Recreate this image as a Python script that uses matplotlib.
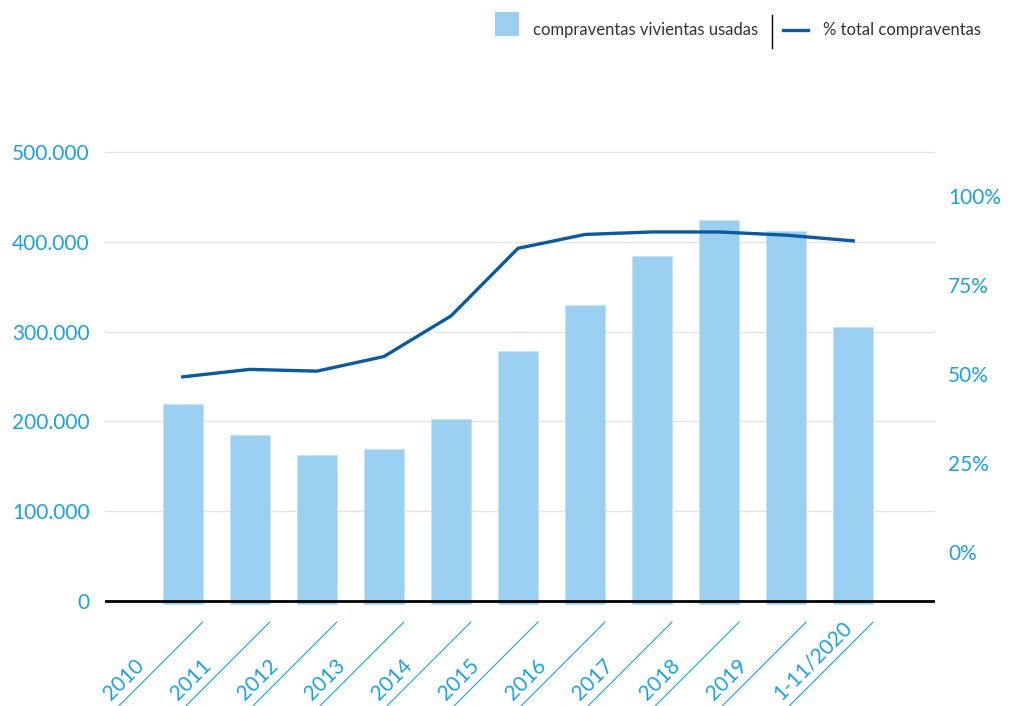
import matplotlib
matplotlib.use("Agg")
import matplotlib.pyplot as plt
from matplotlib.transforms import ScaledTranslation
from matplotlib.patches import Rectangle
from matplotlib.lines import Line2D

# ---- data ----
years = ["2010", "2011", "2012", "2013", "2014", "2015", "2016", "2017", "2018", "2019", "1-11/2020"]
ventas_usadas = [219400, 184500, 162900, 169600, 202700, 278400, 329300, 383900, 424300, 412400, 304800]
pct_total = [49.2, 51.3, 50.8, 54.9, 66.3, 85.3, 89.2, 89.9, 89.9, 89.0, 87.4]
left_ticks = [0, 100000, 200000, 300000, 400000, 500000]
left_ticklabels = ["0", "100.000", "200.000", "300.000", "400.000", "500.000"]
right_ticks = [0, 25, 50, 75, 100]
right_ticklabels = ["0%", "25%", "50%", "75%", "100%"]
legend_bar = "compraventas vivientas usadas"
legend_line = "% total compraventas"

# ---- style ----
FONT = ["Lato", "DejaVu Sans"]
plt.rcParams["font.family"] = FONT
BAR_COLOR = "#9acff2"
LINE_COLOR = "#0b5a9c"
TICK_COLOR = "#1ba1de"
GRID_COLOR = "#e3e3e3"
TEXT_COLOR = "#333333"

W, H = 1010, 706
fig = plt.figure(figsize=(W / 100, H / 100), dpi=100)
ax = fig.add_axes([105 / W, 1 - 606 / H, (935 - 105) / W, (606 - 140) / H])

x = list(range(len(years)))
base = -3500
ax.bar(x, [v - base for v in ventas_usadas], bottom=base, width=0.6,
       color=BAR_COLOR, edgecolor="#c4e3f8", linewidth=0.6, zorder=2)
ax.axhline(0, color="black", lw=2, zorder=4)

ax.set_xlim(-1.16, 11.22)
ax.set_ylim(-5568, 513400)
ax.set_yticks(left_ticks)
ax.set_yticklabels(left_ticklabels)
ax.yaxis.grid(True, color=GRID_COLOR, lw=1)
ax.set_axisbelow(True)
ax.tick_params(axis="y", length=0, pad=11, labelsize=15, labelcolor=TICK_COLOR)
ax.set_xticks([])
for s in ax.spines.values():
    s.set_visible(False)

ax2 = ax.twinx()
ax2.plot(x, pct_total, color=LINE_COLOR, lw=2.4, zorder=5, solid_joinstyle="miter")
ax2.set_ylim(-15.17, 115.73)
ax2.set_yticks(right_ticks)
ax2.set_yticklabels(right_ticklabels)
ax2.tick_params(axis="y", length=0, pad=9.5, labelsize=15, labelcolor=TICK_COLOR)
for s in ax2.spines.values():
    s.set_visible(False)

# ---- diagonal x labels with slanted tick lines ----
xtr = ax.get_xaxis_transform()
def off(dx, dy):
    return xtr + ScaledTranslation(dx / 100, dy / 100, fig.dpi_scale_trans)

for xi, lab in zip(x, years):
    ax.annotate("", xy=(xi, 0), xycoords=off(20, -16),
                xytext=(xi, 0), textcoords=off(-90, -126),
                arrowprops=dict(arrowstyle="-", color=TICK_COLOR, lw=0.8,
                                shrinkA=0, shrinkB=0),
                annotation_clip=False)
    ax.text(xi, 0, lab, transform=off(-72, -95), rotation=45,
            rotation_mode="anchor", ha="left", va="baseline",
            fontsize=15, color=TICK_COLOR, clip_on=False)

# ---- legend ----
def fy(y):
    return 1 - y / H
fig.add_artist(Rectangle((495 / W, fy(36)), 24 / W, 24 / H, transform=fig.transFigure,
                         color=BAR_COLOR, lw=0))
fig.text(533 / W, fy(30.5), legend_bar, fontsize=12, color=TEXT_COLOR,
         ha="left", va="center")
fig.add_artist(Line2D([772 / W, 772 / W], [fy(15), fy(48)], transform=fig.transFigure,
                      color="black", lw=1))
fig.add_artist(Line2D([783 / W, 808 / W], [fy(29.5), fy(29.5)], transform=fig.transFigure,
                      color=LINE_COLOR, lw=2.4))
fig.text(823 / W, fy(30.5), legend_line, fontsize=12, color=TEXT_COLOR,
         ha="left", va="center")

fig.savefig("out.png", dpi=100)
